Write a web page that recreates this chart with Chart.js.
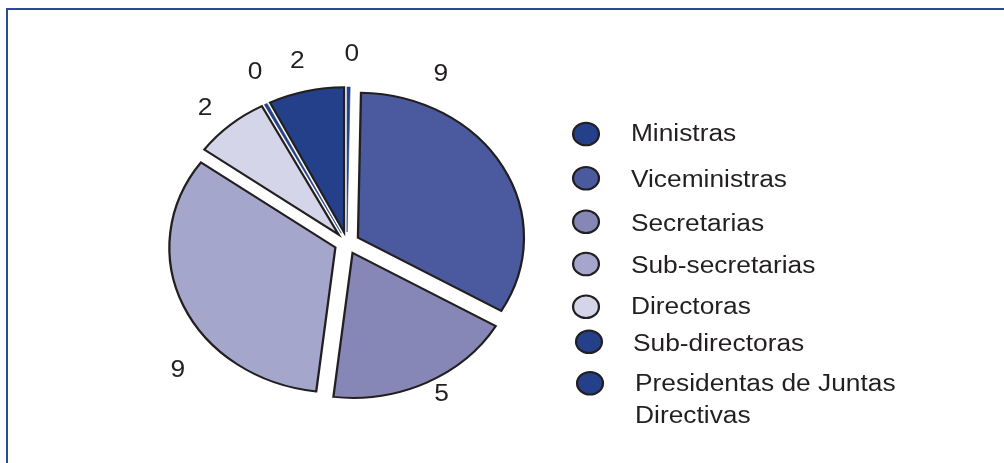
<!DOCTYPE html>
<html><head><meta charset="utf-8">
<script src="https://cdn.jsdelivr.net/npm/chart.js@4/dist/chart.umd.min.js"></script>
<style>
html,body{margin:0;padding:0;background:#fff;}
#wrap{position:relative;width:1004px;height:463px;overflow:hidden;background:#fff;}
#frame{position:absolute;left:6px;top:8px;width:1100px;height:600px;border-top:2px solid #2d4a9a;border-left:2px solid #2d4a9a;}
#c{position:absolute;left:0;top:0;}
</style></head><body>
<div id="wrap"><div id="frame"></div><canvas id="c" width="1004" height="463"></canvas></div>
<script>
// ---- data ----
const categories = ['Ministras','Viceministras','Secretarias','Sub-secretarias','Directoras','Sub-directoras','Presidentas de Juntas Directivas'];
const values = [0, 9, 5, 9, 2, 0, 2];
const valueLabels = ['0', '9', '5', '9', '2', '0', '2'];
const legendLines = [['Ministras'],['Viceministras'],['Secretarias'],['Sub-secretarias'],['Directoras'],['Sub-directoras'],['Presidentas de Juntas','Directivas']];

// ---- style / layout ----
const colors = ['#24408b','#4b5a9e','#8787b7','#a4a6cb','#d4d5e8','#24408b','#24408b'];
const SLIVER = 0.08;            // visual width for zero-valued slices
const STRETCH = 1.145;          // horizontal stretch of the whole figure
const EXPLODE = 11;             // slice pull-out distance
const labelNudge = [0.8, -34.7, -2, -17, -1.8, 1.8, -0.2]; // degrees
const labelRadius = [188, 187, 173, 195, 183, 188, 186];
const legendCircle = [[511.8,134],[511.8,178.3],[511.8,221.7],[511.8,264],[511.8,306.7],[514.4,341.7],[515.3,383.3]];
const legendTextX = [551,551,551,551,551,552.8,554.6];
const legendBase = [141,186.7,230.7,273.3,314,350.7,390.7];
const FONT = '23px "Liberation Sans", Arial, Helvetica, sans-serif';

const drawValues = values.map(v => v === 0 ? SLIVER : v);

const pieDraw = {
  id: 'pieDraw',
  beforeDatasetDraw(chart, args) {
    const ctx = chart.ctx;
    ctx.save();
    ctx.scale(STRETCH, 1);
    args.meta.data.forEach(arc => {
      const mid = (arc.startAngle + arc.endAngle) / 2;
      ctx.save();
      ctx.translate(Math.cos(mid) * EXPLODE, Math.sin(mid) * EXPLODE);
      arc.draw(ctx);
      ctx.restore();
    });
    ctx.restore();
    return false;
  },
  afterDraw(chart) {
    const ctx = chart.ctx;
    const meta = chart.getDatasetMeta(0);
    ctx.save();
    ctx.scale(STRETCH, 1);
    ctx.font = FONT;
    ctx.fillStyle = '#231f20';
    ctx.textAlign = 'center';
    ctx.textBaseline = 'middle';
    meta.data.forEach((arc, i) => {
      const a = (arc.startAngle + arc.endAngle) / 2 + labelNudge[i] * Math.PI / 180;
      const r = labelRadius[i];
      ctx.fillText(valueLabels[i], arc.x + Math.cos(a) * r, arc.y + Math.sin(a) * r);
    });
    // legend
    ctx.textAlign = 'left';
    ctx.textBaseline = 'alphabetic';
    categories.forEach((c, i) => {
      const [u, y] = legendCircle[i];
      ctx.beginPath();
      ctx.arc(u, y, 11.3, 0, Math.PI * 2);
      ctx.fillStyle = colors[i];
      ctx.fill();
      ctx.lineWidth = 2;
      ctx.strokeStyle = '#231f20';
      ctx.stroke();
      ctx.fillStyle = '#231f20';
      legendLines[i].forEach((line, k) => {
        ctx.fillText(line, legendTextX[i], legendBase[i] + k * 32.6);
      });
    });
    ctx.restore();
  }
};

new Chart(document.getElementById('c'), {
  type: 'pie',
  data: {
    labels: categories,
    datasets: [{
      data: drawValues,
      backgroundColor: colors,
      borderColor: values.map(v => v === 0 ? colors[0] : '#231f20'),
      borderWidth: values.map(v => v === 0 ? 0.6 : 2),
      borderJoinStyle: 'miter',
      radius: 145
    }]
  },
  options: {
    responsive: false,
    animation: false,
    events: [],
    layout: { padding: { left: 123, right: 521, top: 63, bottom: 40 } },
    plugins: { legend: { display: false }, tooltip: { enabled: false } }
  },
  plugins: [pieDraw]
});
</script>
</body></html>
